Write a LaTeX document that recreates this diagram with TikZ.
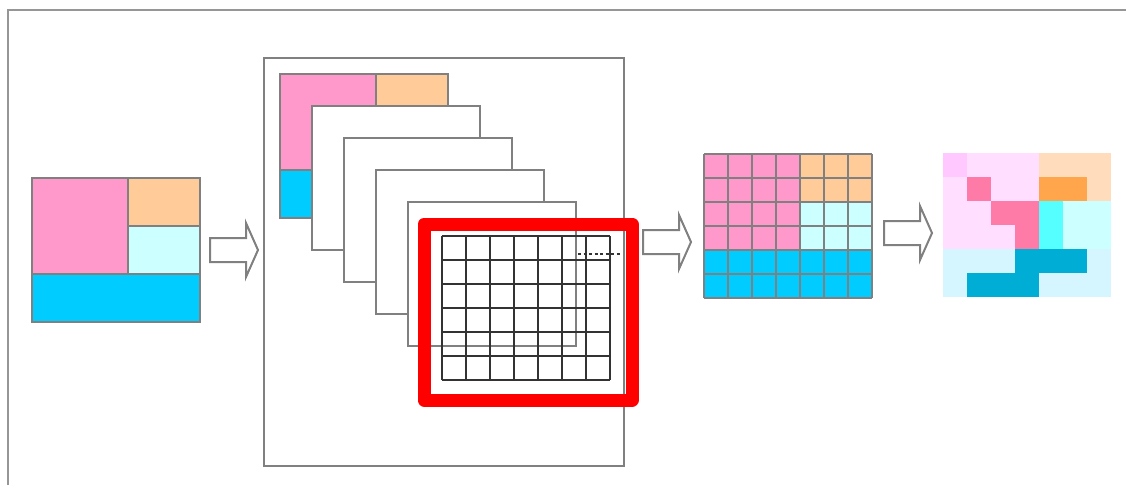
\documentclass[tikz,border=0pt]{standalone}
\usepackage{tikz}
\usetikzlibrary{calc}
\definecolor{linegray}{RGB}{128,128,128}
\definecolor{framegray}{RGB}{150,150,150}
\definecolor{gridgray}{RGB}{51,51,51}
\definecolor{cpink}{RGB}{255,153,204}
\definecolor{corange}{RGB}{255,204,153}
\definecolor{ccyan}{RGB}{204,255,255}
\definecolor{cblue}{RGB}{0,204,255}
% soft colours of the result
\definecolor{mv}{RGB}{255,200,255}
\definecolor{lp}{RGB}{255,222,255}
\definecolor{hp}{RGB}{255,123,167}
\definecolor{lo}{RGB}{255,220,187}
\definecolor{do}{RGB}{255,165,75}
\definecolor{cy}{RGB}{85,255,255}
\definecolor{lc}{RGB}{204,255,255}
\definecolor{pb}{RGB}{213,245,255}
\definecolor{db}{RGB}{0,173,213}

\tikzset{
  blk/.style={draw=linegray,line width=2pt},
  cellgrid/.style={draw=gridgray,line width=2pt},
  partition/.pic={
    \fill[cpink] (0,0) rectangle (96,96);
    \fill[corange] (96,0) rectangle (168,48);
    \fill[ccyan] (96,48) rectangle (168,96);
    \fill[cblue] (0,96) rectangle (168,144);
    \draw[blk] (0,0) rectangle (168,144) (96,0)--(96,96) (0,96)--(168,96) (96,48)--(168,48);
  },
  fatarrow/.pic={
    \draw[blk,fill=white,line join=miter] (0,-12)--(36,-12)--(36,-27)--(48,0)--(36,27)--(36,12)--(0,12)--cycle;
  }
}

\begin{document}
\begin{tikzpicture}[x=1pt,y=-1pt]
\useasboundingbox (0,0) rectangle (1126,485);

% outer frame
\draw[framegray,line width=2pt] (8,485)--(8,10)--(1126,10);

% input picture
\pic at (32,178) {partition};
\coordinate (a1) at (210,250);
\pic at (a1) {fatarrow};

% stack of cards
\draw[blk] (264,58) rectangle (624,466);
\pic at (280,74) {partition};
\foreach \i in {1,...,4}
  \draw[blk,fill=white] (280+32*\i,74+32*\i) rectangle +(168,144);

% selected card
\foreach \c in {0,...,7}
  \draw[cellgrid] (442+24*\c,236)--(442+24*\c,380);
\foreach \r in {0,...,6}
  \draw[cellgrid] (442,236+24*\r)--(610,236+24*\r);
\draw[red,line width=13pt,line join=round] (424,224) rectangle (632,400);
\draw[gridgray,line width=1.5pt,dash pattern=on 3pt off 2.5pt] (578,254)--(621,254);

\coordinate (a2) at (643,242);
\pic at (a2) {fatarrow};

% cells
\fill[cpink] (704,154) rectangle (800,250);
\fill[corange] (800,154) rectangle (872,202);
\fill[ccyan] (800,202) rectangle (872,250);
\fill[cblue] (704,250) rectangle (872,298);
\foreach \c in {0,...,7}
  \draw[blk] (704+24*\c,154)--(704+24*\c,298);
\foreach \r in {0,...,6}
  \draw[blk] (704,154+24*\r)--(872,154+24*\r);

\coordinate (a3) at (884,233);
\pic at (a3) {fatarrow};

% result
\foreach \row [count=\r from 0] in {
  {mv,lp,lp,lp,lo,lo,lo},
  {lp,hp,lp,lp,do,do,lo},
  {lp,lp,hp,hp,cy,lc,lc},
  {lp,lp,lp,hp,cy,lc,lc},
  {pb,pb,pb,db,db,db,pb},
  {pb,db,db,db,pb,pb,pb}}
  \foreach \cc [count=\c from 0] in \row
    \fill[\cc] (943+24*\c,153+24*\r) rectangle +(24.3,24.3);

\end{tikzpicture}
\end{document}
